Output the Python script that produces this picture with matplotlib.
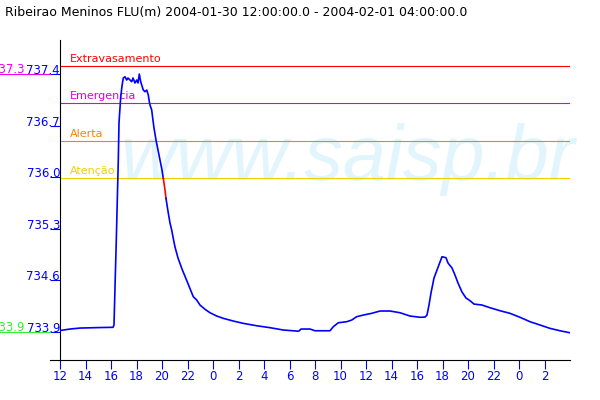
import matplotlib
matplotlib.use("Agg")
import matplotlib.pyplot as plt
from matplotlib.transforms import blended_transform_factory

title = "Ribeirao Meninos FLU(m) 2004-01-30 12:00:00.0 - 2004-02-01 04:00:00.0"

# hours since 2004-01-30 12:00, level in m
hours = [0.0, 0.784, 1.569, 3.137, 4.157, 4.235, 4.314, 4.416, 4.494, 4.573, 4.627,
         4.761, 4.863, 4.965, 5.098, 5.231, 5.333, 5.49, 5.624, 5.725, 5.882, 6.016,
         6.118, 6.22, 6.329, 6.408, 6.533, 6.667, 6.8, 6.925, 7.004, 7.059, 7.192,
         7.27, 7.373, 7.529, 7.686, 7.843, 8.0, 8.102]
level = [733.92, 733.94, 733.953, 733.96, 733.963, 733.994, 734.50, 735.13, 735.665,
         736.20, 736.695, 737.04, 737.19, 737.297, 737.314, 737.27, 737.297, 737.27,
         737.247, 737.297, 737.23, 737.27, 737.23, 737.35, 737.247, 737.203, 737.136,
         737.114, 737.136, 737.07, 736.98, 736.936, 736.869, 736.762, 736.628, 736.468,
         736.334, 736.20, 736.066, 735.955]

# short stretch drawn in red
gap_hours = [8.102, 8.212, 8.314]
gap_level = [735.955, 735.826, 735.688]

hours2 = [8.314, 8.369, 8.494, 8.627, 8.761, 8.863, 9.02, 9.255, 9.569, 9.961,
          10.455, 10.722, 10.98, 11.373, 11.765, 12.29, 12.808, 13.592, 14.376,
          15.427, 16.471, 17.514, 18.565, 18.745, 18.902, 19.608, 20.0, 21.176,
          21.435, 21.827, 22.486, 22.878, 23.27, 23.788, 24.447, 25.098, 25.882,
          26.667, 27.451, 28.235, 28.627, 28.784, 28.941, 29.098, 29.333, 29.569,
          29.804, 29.961, 30.275, 30.431, 30.745, 30.98, 31.216, 31.529, 31.843,
          32.157, 32.471, 33.098, 33.725, 34.51, 35.294, 36.078, 36.863, 37.647,
          38.431, 39.216, 40.0]
level2 = [735.688, 735.625, 735.49, 735.358, 735.264, 735.17, 735.037, 734.89,
          734.742, 734.58, 734.372, 734.328, 734.261, 734.204, 734.158, 734.114,
          734.083, 734.047, 734.016, 733.984, 733.958, 733.927, 733.913, 733.913,
          733.94, 733.94, 733.917, 733.917, 733.971, 734.024, 734.038, 734.06,
          734.105, 734.127, 734.15, 734.181, 734.181, 734.158, 734.114, 734.097,
          734.10, 734.127, 734.261, 734.422, 734.622, 734.729, 734.836, 734.907,
          734.894, 734.823, 734.756, 734.662, 734.555, 734.435, 734.355, 734.319,
          734.274, 734.261, 734.225, 734.185, 734.15, 734.097, 734.038, 733.994,
          733.949, 733.917, 733.89]

limit_names = ["Extravasamento", "Emergencia", "Alerta", "Atenção"]
limit_values = [737.46, 736.96, 736.46, 735.96]
limit_colors = ["#ff0000", "#dd00dd", "#ff8000", "#f2d000"]

ytick_values = [733.9, 734.59, 735.28, 735.97, 736.66, 737.35]
ytick_labels = ["733.9", "734.6", "735.3", "736.0", "736.7", "737.4"]
xtick_values = list(range(0, 39, 2))
xtick_labels = [str((12 + h) % 24) for h in xtick_values]

max_label, min_label = "737.3", "733.9"

fig = plt.figure(figsize=(6, 4), dpi=100)
ax = fig.add_axes([0.1, 0.1, 0.85, 0.8])
blue = "#0000ff"

ax.text(0.1176, 0.5625, "www.saisp.br", transform=ax.transAxes, family="Liberation Sans",
        style="italic", fontsize=55.5, color="#e2f5fc", va="baseline", ha="left", zorder=0)

for name, val, col in zip(limit_names, limit_values, limit_colors):
    ax.axhline(val, color=col, lw=0.8, zorder=2)
    ax.annotate(name, (0, val), xycoords=("axes fraction", "data"), xytext=(10, 4),
                textcoords="offset pixels", color=col, fontsize=8, va="baseline")

ax.plot(hours, level, color=blue, lw=1.2, zorder=3)
ax.plot(gap_hours, gap_level, color="#ff0000", lw=1.2, zorder=3)
ax.plot(hours2, level2, color=blue, lw=1.2, zorder=3)

ax.set_xlim(0, 40)
ax.set_ylim(733.526, 737.805)
ax.set_xticks(xtick_values, xtick_labels)
ax.set_yticks(ytick_values, ytick_labels)
ax.tick_params(axis="x", colors=blue, labelsize=8.5, length=6.5, width=0.8, pad=1)
ax.tick_params(axis="y", colors=blue, labelsize=8.5, length=7.2, width=0.8, pad=-7.2)
for lab in ax.get_yticklabels():
    lab.set_va("baseline")
for s in ["top", "right"]:
    ax.spines[s].set_visible(False)
for s in ["left", "bottom"]:
    ax.spines[s].set_color("black")
    ax.spines[s].set_linewidth(0.8)
ax.plot([-10 / 510, 0], [0, 0], transform=ax.transAxes, color="black", lw=0.8, clip_on=False)

# extreme values shown left of the axis
trans = blended_transform_factory(fig.transFigure, ax.transData)
for txt, val, col in [(max_label, ytick_values[-1], "#ee00ee"), (min_label, ytick_values[0], "#33ee33")]:
    ax.plot([0, 50 / 600], [val, val], transform=trans, color=col, lw=0.8, clip_on=False)
    ax.annotate(txt, (0, val), xycoords=("axes fraction", "data"), xytext=(-35, 1),
                textcoords="offset pixels", color=col, fontsize=8.5, va="baseline", ha="right",
                annotation_clip=False)

fig.text(5 / 600, 1 - 16 / 400, title, fontsize=9, color="black", va="baseline", ha="left")

fig.savefig("out.png", dpi=100)
